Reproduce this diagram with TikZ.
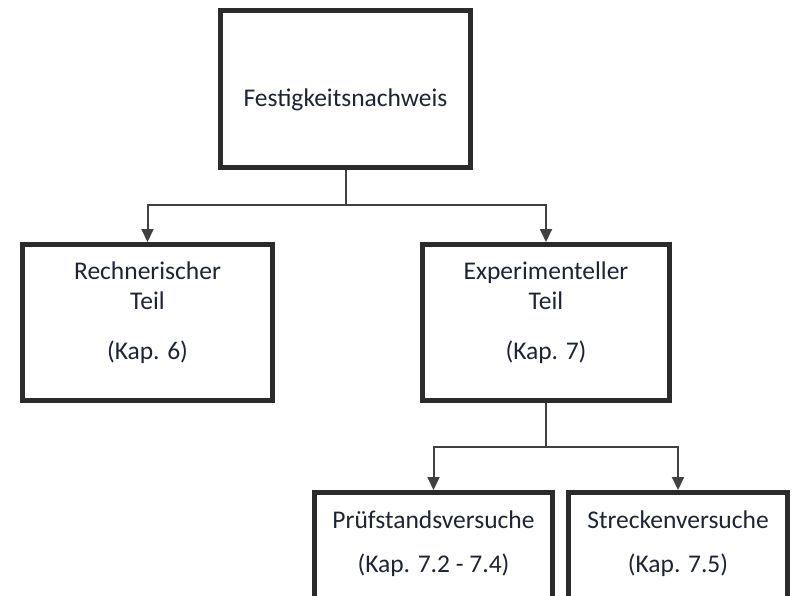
\documentclass[tikz,border=0pt]{standalone}
\usepackage{fontspec}
\setmainfont{Carlito}
\usetikzlibrary{arrows.meta,positioning}

\definecolor{boxline}{HTML}{2B2B2B}
\definecolor{txt}{HTML}{1E2433}

\begin{document}
\begin{tikzpicture}[x=1pt,y=-1pt,>={Triangle[length=13pt,width=12pt]},
    box/.style={draw=boxline,line width=5pt,fill=white,text=txt,
      align=center,font=\fontsize{25.5}{30}\selectfont,
      minimum width=250pt,minimum height=156pt,inner sep=0pt},
    lowbox/.style={box,minimum height=110pt,anchor=north,text depth=12pt},
    conn/.style={->,draw=boxline!90,line width=2pt}]
  \clip (0,0) rectangle (792,595);
  \fill[white] (0,0) rectangle (792,595);

  \node[box,minimum height=157pt,text height=40pt] (fest) at (345.5,89)
    {Festigkeitsnachweis};
  \node[box,text depth=24pt] (rech) at (147.5,322.5)
    {Rechnerischer\\Teil\\[20pt](Kap. 6)};
  \node[box,text depth=24pt,minimum width=247pt] (expt) at (546,322.5)
    {Experimenteller\\Teil\\[20pt](Kap. 7)};

  \node[lowbox,minimum width=238pt] (pruef) at (433.5,490)
    {Prüfstandsversuche\\[14pt](Kap. 7.2 - 7.4)};
  \node[lowbox,minimum width=219pt] (strecke) at (678,490)
    {Streckenversuche\\[14pt](Kap. 7.5)};

  \draw[conn] (fest.south) -- ++(0,35) -| (rech.north);
  \draw[conn] (fest.south) -- ++(0,35) -| (expt.north);
  \draw[conn] (expt.south) -- ++(0,44) -| (pruef.north);
  \draw[conn] (expt.south) -- ++(0,44) -| (strecke.north);
\end{tikzpicture}
\end{document}
